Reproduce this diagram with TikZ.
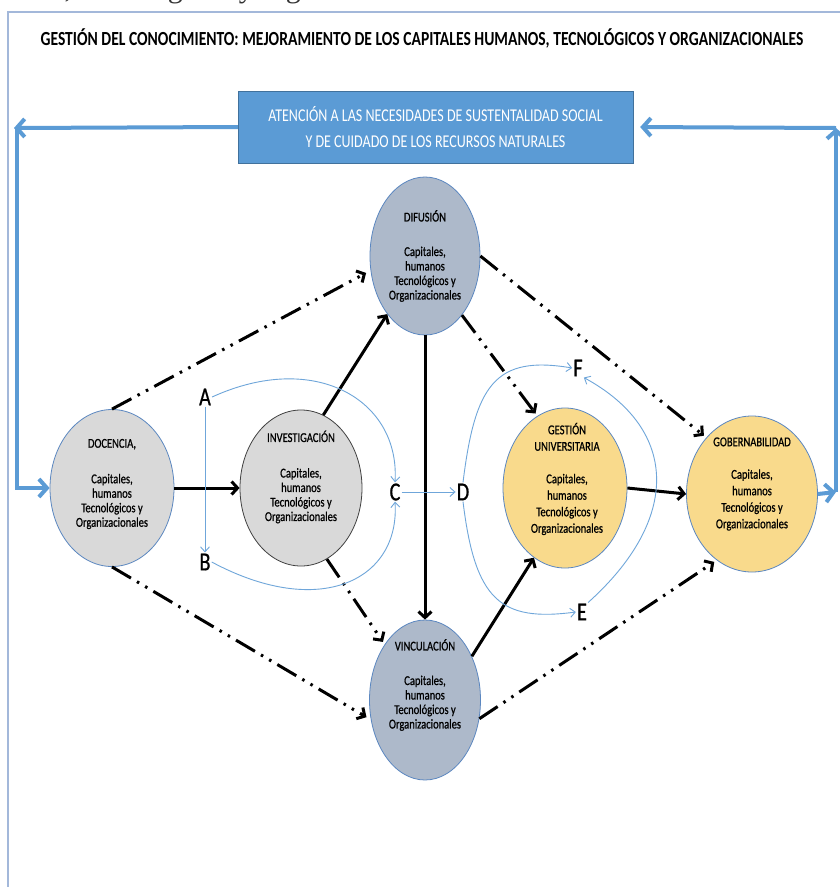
\documentclass[tikz,border=0pt]{standalone}
\usepackage{fontspec}
\setmainfont{Carlito}
\newfontfamily\cond[FakeStretch=0.78]{Carlito}
\newfontfamily\condb[FakeStretch=0.78,FakeBold=0.7]{Carlito}
\newfontfamily\serifcut{Liberation Serif}
\usetikzlibrary{arrows.meta,shapes.geometric}
\definecolor{boxblue}{HTML}{5B9BD5}
\definecolor{boxedge}{HTML}{41719C}
\definecolor{frameblue}{HTML}{A3B8DA}
\definecolor{lgray}{HTML}{D9D9D9}
\definecolor{gblue}{HTML}{ADB9CA}
\definecolor{pyellow}{HTML}{F9DA8C}
\definecolor{ebord}{HTML}{5B87C0}
\definecolor{thinblue}{HTML}{6FA6DA}
\tikzset{
  ell/.style={ellipse, inner sep=0pt, draw=ebord, line width=0.8pt},
  etext/.style={align=center, text=black, inner sep=0pt},
  etxa/.style={etext, font={\condb\fontsize{13.5pt}{14.5pt}\selectfont}},
  etxb/.style={etext, font={\condb\fontsize{13.5pt}{16.5pt}\selectfont}},
  letter/.style={font={\condb\fontsize{26pt}{26pt}\selectfont}, inner sep=1pt},
  solidarr/.style={line width=3pt, -{Straight Barb[length=6pt,width=13pt]}},
  dashdot/.style={line width=3pt, dash pattern=on 22pt off 7pt on 2.5pt off 7pt on 2.5pt off 7pt, -{Straight Barb[length=6pt,width=13pt]}},
  bigblue/.style={draw=boxblue, line width=4pt},
  bigtip/.style={-{Straight Barb[length=8pt,width=18pt]}},
  thinarr/.style={draw=thinblue, line width=0.9pt, -{Straight Barb[length=5pt,width=9pt]}}
}
\begin{document}
\begin{tikzpicture}[x=1pt,y=-1pt]
\useasboundingbox (0,0) rectangle (840,887);
\fill[white] (0,0) rectangle (840,887);
\begin{scope}
\clip (0,0) rectangle (840,887);
\node[anchor=base east, inner sep=0pt, text=black!80, font={\serifcut\fontsize{30pt}{30pt}\selectfont}] (cut) at (470,-3) {humanos, tecnológicos y organizacionales.};
\end{scope}
% frame
\draw[frameblue, line width=1.2pt] (8,887) -- (8,12) -- (840,12);
% title
\node (title) at (422,38) {\cond\bfseries\fontsize{20pt}{20pt}\selectfont GESTIÓN DEL CONOCIMIENTO: MEJORAMIENTO DE LOS CAPITALES HUMANOS, TECNOLÓGICOS Y ORGANIZACIONALES};
% top box
\node[draw=boxedge, fill=boxblue, minimum width=395pt, minimum height=72pt, text=white, align=center, font={\cond\fontsize{18pt}{26pt}\selectfont}] (box) at (435.5,127) {ATENCIÓN A LAS NECESIDADES DE SUSTENTALIDAD SOCIAL\\Y DE CUIDADO DE LOS RECURSOS NATURALES};
% ellipses
\node[ell, fill=gblue, minimum width=110pt, minimum height=158pt] (DIF) at (425,256) {};
\node[ell, fill=lgray, minimum width=124pt, minimum height=157pt] (DOC) at (112,488) {};
\node[ell, fill=lgray, draw=black!75, minimum width=122pt, minimum height=156pt] (INV) at (301,488) {};
\node[ell, fill=gblue, minimum width=111pt, minimum height=160pt] (VINC) at (425,700) {};
\node[ell, fill=pyellow, minimum width=124pt, minimum height=160pt] (GEST) at (565,488) {};
\node[ell, fill=pyellow, minimum width=131pt, minimum height=156pt] (GOB) at (752,494) {};
% ellipse texts
\node[etxa] (DIFt) at (425,256) {DIFUSIÓN\\[20pt]Capitales,\\humanos\\Tecnológicos y\\Organizacionales};
\node[etxa] (DOCt) at (112,484) {DOCENCIA,\\[21pt]Capitales,\\humanos\\Tecnológicos y\\Organizacionales};
\node[etxa] (INVt) at (301,477) {INVESTIGACIÓN\\[21pt]Capitales,\\humanos\\Tecnológicos y\\Organizacionales};
\node[etxa] (VINCt) at (425,685) {VINCULACIÓN\\[20pt]Capitales,\\humanos\\Tecnológicos y\\Organizacionales};
\node[etxb] (GESTt) at (567,479) {GESTIÓN\\UNIVERSITARIA\\[16pt]Capitales,\\humanos\\Tecnológicos y\\Organizacionales};
\node[etxb] (GOBt) at (752,484) {GOBERNABILIDAD\\[16pt]Capitales,\\humanos\\Tecnológicos y\\Organizacionales};
% letters
\node[letter] (A) at (205,397) {A};
\node[letter] (B) at (205,562) {B};
\node[letter] (C) at (395,492) {C};
\node[letter] (D) at (463,492) {D};
\node[letter] (E) at (582,612) {E};
\node[letter] (F) at (578,368) {F};
% outer blue loop
\coordinate (tl) at (14,128);
\coordinate (ltop) at (17,128);
\coordinate (lbot) at (17,488);
\coordinate (rbot) at (836,492);
\coordinate (rtop) at (836,128);
\draw[bigblue, bigtip] (box.west) -- (tl);
\draw[bigblue, bigtip] (ltop) -- (lbot) -- (DOC.west);
\draw[bigblue, bigtip] (GOB.east) -- (rbot);
\draw[bigblue, bigtip] (rbot) -- (rtop);
\draw[bigblue, bigtip, shorten >=7pt] (rtop) -- (box.east);
% solid black arrows
\draw[solidarr] (DOC.east) -- (INV.west);
\draw[solidarr] (INV.73) -- (DIF.237);
\draw[solidarr] (DIF.south) -- (VINC.north);
\draw[solidarr] (VINC.43) -- (GEST.246);
\draw[solidarr] (GEST.east) -- (GOB.west);
% dash-dot arrows
\draw[dashdot, shorten >=5pt] (DOC.north) -- (DIF.195);
\draw[dashdot, shorten >=5pt] (DOC.south) -- (VINC.200);
\draw[dashdot, shorten >=3pt] (INV.290) -- (VINC.126);
\draw[dashdot, shorten >=3pt] (DIF.302) -- (GEST.111);
\draw[dashdot, shorten >=3pt] (DIF.east) -- (GOB.129);
\draw[dashdot, shorten >=3pt] (VINC.341) -- (GOB.242);
% thin blue connectors
\draw[thinarr] (A.south) -- (B.north);
\draw[thinarr] (A.east) .. controls (315,350) and (400,400) .. (C.north);
\draw[thinarr] (B.east) .. controls (320,620) and (400,580) .. (C.south);
\draw[thinarr] (C.east) -- (D.west);
\draw[thinarr] (D.north) .. controls (475,385) and (495,355) .. (F.west);
\draw[thinarr] (D.south) .. controls (475,600) and (500,622) .. (E.west);
\draw[thinarr] (E.north east) .. controls (680,520) and (680,430) .. (F.south east);
\end{tikzpicture}
\end{document}
